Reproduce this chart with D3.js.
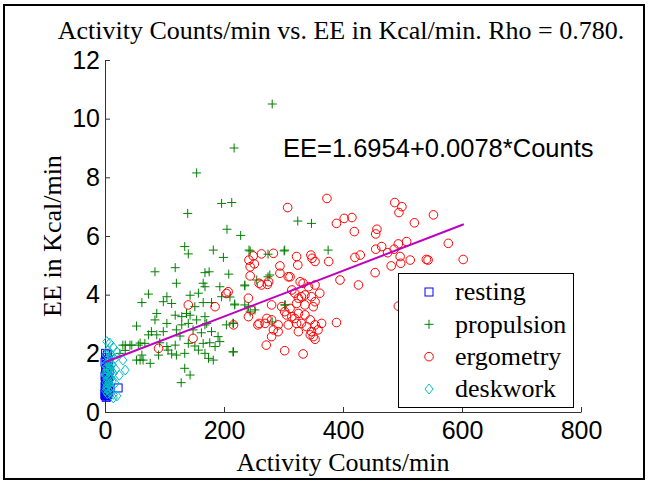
<!DOCTYPE html>
<html>
<head>
<meta charset="utf-8">
<script src="https://cdn.jsdelivr.net/npm/d3@7/dist/d3.min.js"></script>
<style>
  body { margin: 0; background: #fff; }
  svg { display: block; }
  .serif { font-family: "Liberation Serif", "Times New Roman", serif; }
  .sans { font-family: "Liberation Sans", Arial, sans-serif; }
</style>
</head>
<body>
<div id="chart"></div>
<script>
// values: [counts/min, kcal/min]
var resting = [
  [1, 2.0], [4, 1.95], [2, 1.85], [6, 1.78], [0, 1.7], [3, 1.62], [5, 1.55], [1, 1.48],
  [7, 1.42], [2, 1.35], [4, 1.28], [0, 1.22], [6, 1.15], [3, 1.1], [1, 1.05], [5, 0.98],
  [2, 0.92], [0, 0.88], [4, 0.84], [3, 0.78], [1, 0.74], [6, 0.7], [2, 0.66], [0, 0.62],
  [4, 0.6], [1, 0.56], [3, 0.54], [2, 0.5], [0, 0.58], [5, 0.64], [22, 0.82]
];

var propulsion = [
  [281, 10.5], [217, 9.0], [154, 8.15], [196, 7.11], [213, 7.14], [139, 6.77],
  [324, 6.51], [347, 6.43], [205, 6.23], [228, 6.02], [134, 5.64], [140, 5.39],
  [182, 5.52], [199, 5.27], [242, 5.52], [274, 5.38], [302, 5.52], [375, 5.52],
  [84, 4.78], [118, 4.92], [168, 4.75], [175, 4.78], [208, 4.70], [120, 4.39],
  [165, 4.39], [168, 4.27], [193, 4.27], [235, 4.33], [274, 4.61], [73, 4.02],
  [62, 3.73], [104, 3.93], [98, 3.76], [112, 3.70], [143, 3.98], [157, 4.05],
  [165, 3.73], [151, 3.59], [179, 3.73], [196, 3.93], [218, 3.68], [241, 3.59],
  [252, 3.48], [302, 3.65], [87, 3.36], [84, 3.14], [53, 2.93], [118, 3.30],
  [129, 3.25], [137, 3.36], [143, 3.30], [154, 3.14], [168, 3.25], [104, 3.02],
  [129, 2.97], [140, 3.02], [168, 2.97], [171, 3.02], [204, 2.97], [216, 3.02],
  [78, 2.74], [98, 2.74], [73, 2.63], [87, 2.63], [120, 2.80], [126, 2.59],
  [148, 2.80], [162, 2.70], [179, 2.74], [190, 2.57], [193, 2.40], [34, 2.28],
  [45, 2.28], [56, 2.28], [67, 2.34], [92, 2.36], [104, 2.23], [118, 2.28],
  [140, 2.34], [151, 2.25], [165, 2.34], [176, 2.36], [185, 2.23], [53, 1.77],
  [64, 1.77], [76, 1.66], [90, 1.94], [106, 2.11], [112, 1.98], [120, 1.94],
  [134, 2.0], [157, 2.11], [168, 2.0], [174, 1.83], [182, 1.77], [216, 2.05],
  [134, 1.49], [143, 1.26], [128, 1.0], [25, 2.0], [34, 2.1], [30, 2.28],
  [42, 2.28], [59, 2.35], [62, 1.94], [59, 1.77], [244, 5.49], [301, 5.49],
  [277, 4.67], [235, 4.3], [218, 3.65], [235, 3.65], [244, 3.41], [215, 3.03],
  [215, 2.05], [303, 3.65], [281, 3.07], [255, 4.5], [210, 3.92]
];

var ergometry = [
  [373, 7.28], [307, 6.97], [487, 7.14], [499, 7.0], [494, 6.80], [552, 6.72],
  [389, 6.43], [402, 6.60], [415, 6.63], [520, 6.45], [419, 6.15], [457, 6.23],
  [455, 6.07], [577, 5.75], [493, 5.73], [507, 5.81], [465, 5.64], [455, 5.55],
  [420, 5.27], [429, 5.35], [475, 5.43], [486, 5.55], [481, 4.98], [497, 5.07],
  [496, 5.30], [513, 5.18], [540, 5.2], [543, 5.18], [602, 5.20], [454, 4.75],
  [426, 4.33], [395, 4.5], [389, 3.05], [493, 3.61], [242, 5.18], [249, 5.32],
  [263, 5.39], [283, 5.41], [244, 4.95], [251, 5.05], [244, 4.64], [259, 4.39],
  [273, 4.35], [275, 4.44], [294, 4.98], [294, 4.73], [308, 4.61], [322, 5.30],
  [324, 5.01], [346, 5.35], [348, 5.24], [353, 5.13], [376, 5.13], [328, 4.44],
  [333, 4.39], [342, 4.27], [353, 4.33], [241, 3.88], [246, 3.48], [241, 3.25],
  [259, 3.02], [272, 3.19], [280, 3.14], [291, 2.97], [280, 3.65], [297, 3.59],
  [311, 3.53], [322, 3.70], [325, 3.88], [336, 3.99], [347, 3.93], [353, 3.76],
  [361, 4.05], [350, 3.59], [305, 3.31], [314, 3.25], [325, 3.36], [336, 3.31],
  [345, 3.14], [353, 2.97], [364, 3.02], [283, 2.80], [291, 2.74], [308, 2.97],
  [322, 3.02], [325, 2.74], [339, 2.91], [347, 2.74], [350, 2.57], [353, 2.48],
  [345, 2.63], [271, 2.28], [302, 2.09], [333, 1.98], [204, 4.04], [207, 4.1],
  [140, 3.65], [185, 3.59], [216, 2.97], [148, 2.51], [90, 2.17], [257, 2.97],
  [263, 4.33], [311, 4.61], [314, 4.16], [330, 3.93], [319, 4.05], [336, 3.65],
  [302, 3.42], [330, 3.02], [319, 3.19], [280, 2.57], [269, 3.02], [358, 2.80]
];

var deskwork = [
  [3, 2.4], [8, 2.35], [14, 2.2], [20, 2.05], [5, 2.1], [2, 1.95], [10, 1.9], [16, 1.8],
  [30, 1.77], [6, 1.7], [12, 1.62], [3, 1.55], [9, 1.5], [34, 1.43], [18, 1.45], [5, 1.38],
  [14, 1.32], [1, 1.25], [8, 1.2], [24, 1.25], [4, 1.12], [12, 1.05], [2, 1.0], [7, 0.95],
  [17, 0.98], [3, 0.88], [10, 0.85], [5, 0.78], [1, 0.72], [8, 0.68], [14, 0.6], [20, 0.55],
  [14, 0.48], [4, 0.62], [11, 1.4], [6, 1.85], [9, 2.0], [0, 1.6], [0, 1.3], [2, 0.8],
  [7, 1.6], [4, 1.45], [10, 1.15], [6, 1.0], [3, 1.3], [8, 1.78]
];

var groupNames = ['resting', 'propulsion', 'ergometry', 'deskwork'];
var groupColors = ['#0000ff', '#007f00', '#ff0000', '#00bfbf'];
var xTicks = [0, 200, 400, 600, 800];
var yTicks = [0, 2, 4, 6, 8, 10, 12];
var intercept = 1.6954, slope = 0.0078;
var fitRange = [0, 603];

var width = 648, height = 482;

var svg = d3.select('#chart').append('svg')
  .attr('width', width)
  .attr('height', height);

// outer frame of the figure
svg.append('rect')
  .attr('x', 4).attr('y', 5)
  .attr('width', 640).attr('height', 474)
  .attr('fill', '#fff')
  .attr('stroke', '#000')
  .attr('stroke-width', 2);

var x = d3.scaleLinear().domain([0, 800]).range([105, 581]);
var y = d3.scaleLinear().domain([0, 12]).range([412, 60]);

var xAxis = d3.axisBottom(x).tickValues(xTicks).tickSize(-5).tickSizeOuter(0).tickPadding(9);
var yAxis = d3.axisLeft(y).tickValues(yTicks).tickSize(-5).tickSizeOuter(0).tickPadding(5);

function styleAxis(g) {
  g.attr('font-family', null).attr('font-size', null).attr('class', 'sans');
  g.select('.domain').attr('stroke', '#333');
  g.selectAll('.tick line').attr('stroke', '#333');
  g.selectAll('.tick text')
    .attr('fill', '#000')
    .style('font-size', '25px');
}

svg.append('g').attr('transform', 'translate(0,' + y(0) + ')').call(xAxis).call(styleAxis);
svg.append('g').attr('transform', 'translate(' + x(0) + ',0)').call(yAxis).call(styleAxis);

// marker shapes, MATLAB gscatter style
var markers = {
  resting: function(g) {
    g.append('rect').attr('x', -4).attr('y', -4).attr('width', 8).attr('height', 8);
  },
  propulsion: function(g) {
    g.append('path').attr('d', 'M-4.5,0H4.5M0,-4.5V4.5');
  },
  ergometry: function(g) {
    g.append('circle').attr('r', 4.3);
  },
  deskwork: function(g) {
    g.append('path').attr('d', 'M0,-5L4,0L0,5L-4,0Z');
  }
};

var groups = [resting, propulsion, ergometry, deskwork];
groups.forEach(function(data, i) {
  var name = groupNames[i];
  svg.append('g')
    .attr('fill', 'none')
    .attr('stroke', groupColors[i])
    .attr('stroke-width', 1)
    .selectAll('g')
    .data(data)
    .enter()
    .append('g')
    .attr('transform', function(d) {
      return 'translate(' + x(d[0]) + ',' + y(d[1]) + ')';
    })
    .each(function() { markers[name](d3.select(this)); });
});

// least squares fit line
var fit = d3.line()
  .x(function(d) { return x(d); })
  .y(function(d) { return y(intercept + slope * d); });

svg.append('path')
  .datum(fitRange)
  .attr('d', fit)
  .attr('fill', 'none')
  .attr('stroke', '#bf00bf')
  .attr('stroke-width', 2);

// texts
svg.append('text')
  .attr('class', 'serif')
  .attr('x', 341).attr('y', 39)
  .attr('text-anchor', 'middle')
  .style('font-size', '26px')
  .text('Activity Counts/min vs. EE in Kcal/min. Rho = 0.780.');

svg.append('text')
  .attr('class', 'serif')
  .attr('x', 343).attr('y', 471)
  .attr('text-anchor', 'middle')
  .style('font-size', '26px')
  .text('Activity Counts/min');

svg.append('text')
  .attr('class', 'serif')
  .attr('transform', 'translate(61,236) rotate(-90)')
  .attr('text-anchor', 'middle')
  .style('font-size', '26px')
  .text('EE in Kcal/min');

svg.append('text')
  .attr('class', 'sans')
  .attr('x', 283).attr('y', 157)
  .style('font-size', '25.5px')
  .text('EE=1.6954+0.0078*Counts');

// legend
var legend = svg.append('g');
legend.append('rect')
  .attr('x', 398.5).attr('y', 273.5)
  .attr('width', 175).attr('height', 134)
  .attr('fill', '#fff')
  .attr('stroke', '#000')
  .attr('stroke-width', 1);

var rowY = d3.scalePoint().domain(groupNames).range([292, 389]);

groupNames.forEach(function(name, i) {
  var m = legend.append('g')
    .attr('transform', 'translate(429,' + rowY(name) + ')')
    .attr('fill', 'none')
    .attr('stroke', groupColors[i]);
  markers[name](m);
  legend.append('text')
    .attr('class', 'serif')
    .attr('x', 455).attr('y', rowY(name))
    .attr('dy', '0.32em')
    .style('font-size', '26px')
    .text(name);
});
</script>
</body>
</html>
